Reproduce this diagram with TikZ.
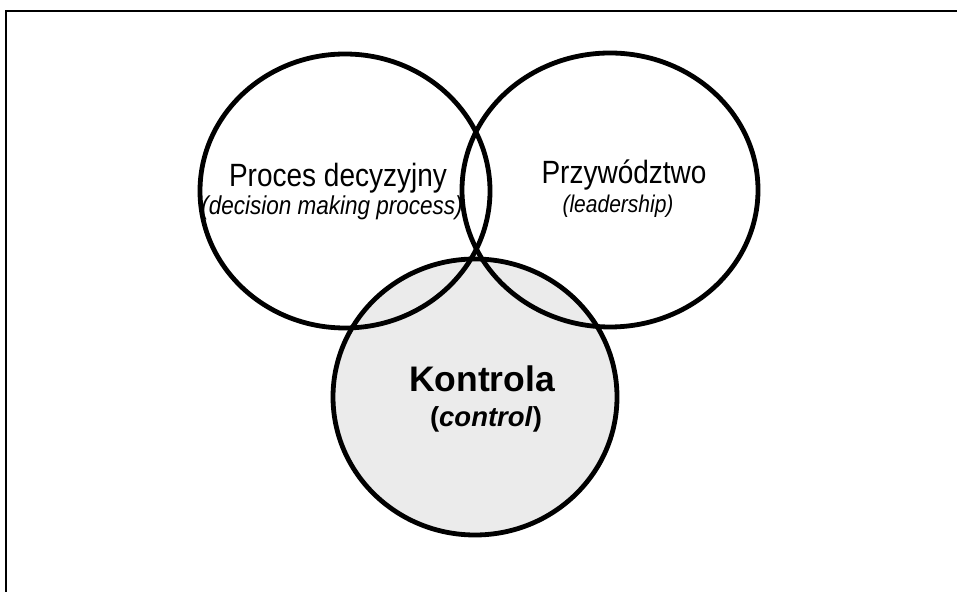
\documentclass[tikz,border=0pt]{standalone}
\usepackage{fontspec}
\usepackage{graphicx}
\setmainfont{Liberation Sans}
\usetikzlibrary{shapes.geometric}
% taller lettering, as printed in the figure
\newcommand{\talltext}[1]{\scalebox{1}[1.15]{#1}}
\begin{document}
\begin{tikzpicture}[x=1pt,y=1pt,
  ring/.style={ellipse, draw=black, line width=4.8pt, inner sep=0pt,
    minimum width=290pt, minimum height=274pt},
  title/.style={anchor=base, inner sep=0pt, font=\fontsize{28}{30}\selectfont},
  gloss/.style={anchor=base, inner sep=0pt, font=\fontsize{22.5}{24}\selectfont\itshape},
  boldtitle/.style={anchor=base, inner sep=0pt, font=\fontsize{35.5}{38}\selectfont\bfseries},
  boldgloss/.style={anchor=base, inner sep=0pt, font=\fontsize{27.5}{30}\selectfont\bfseries}]
\useasboundingbox (0,0) rectangle (957,591);
% frame (top and left edges)
\draw[line width=2pt] (6,-5) -- (6,580) -- (962,580);
% three overlapping areas
\node[ring, fill=black!8, minimum width=284pt, minimum height=276pt] (control) at (475,194) {};
\node[ring] (decision) at (345,400) {};
\node[ring, minimum width=296pt] (leader) at (610,401) {};
% labels
\node[title] (t1) at (338,404) {\talltext{Proces decyzyjny}};
\node[gloss] (g1) at (332,376) {\talltext{(decision making process)}};
\node[title] (t2) at (624,407) {\talltext{Przywództwo}};
\node[gloss, font=\fontsize{21}{24}\selectfont\itshape] (g2) at (618,378) {\talltext{(leadership)}};
\node[boldtitle] (t3) at (482,199) {Kontrola};
\node[boldgloss] (g3) at (486,164) {(\textit{control})};
\end{tikzpicture}
\end{document}
